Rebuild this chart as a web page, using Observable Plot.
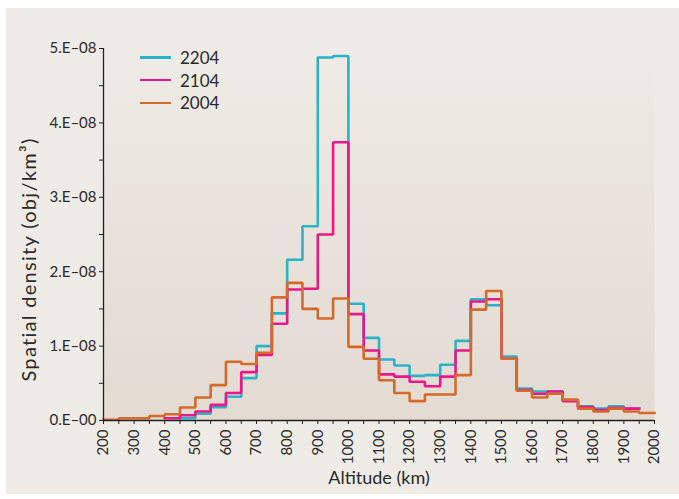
<!DOCTYPE html>
<html>
<head>
<meta charset="utf-8">
<script src="https://cdn.jsdelivr.net/npm/d3@7"></script>
<script src="https://cdn.jsdelivr.net/npm/@observablehq/plot@0.6"></script>
<style>
  html, body { margin: 0; padding: 0; background: #ffffff; }
  #panel { position: absolute; left: 6px; top: 8px; width: 673px; height: 486px; background: #efebe6; font-family: Lato, "Open Sans", sans-serif; }
  #legend { position: absolute; left: 134px; top: 38px; font-family: Lato, sans-serif; font-size: 17px; color: #2a2a2a; }
  .item { position: relative; height: 22.8px; display: flex; align-items: center; }
  .swatch { width: 31px; height: 2.5px; margin-right: 9px; }
</style>
</head>
<body>
<div id="panel"><div id="legend"></div></div>
<script>
// Bin start altitudes (km), bin width 50 km; density values in units of 1e-8 obj/km^3
const binWidth = 50;
const unit = 1e-8;
const series = ["2204", "2104", "2004"];
const colors = ["#2ab3c9", "#ec1789", "#d56a2b"];

const start2204 = 450;
const density2204 = [0.03, 0.09, 0.18, 0.32, 0.57, 1.00, 1.44, 2.16, 2.61, 4.88, 4.90,
  1.57, 1.11, 0.82, 0.74, 0.60, 0.61, 0.75, 1.07, 1.63, 1.55, 0.86, 0.43, 0.39, 0.39,
  0.27, 0.19, 0.16, 0.19, 0.16];

const start2104 = 400;
const density2104 = [0.03, 0.07, 0.12, 0.21, 0.37, 0.65, 0.88, 1.30, 1.76, 1.77, 2.50, 3.74,
  1.43, 0.94, 0.62, 0.59, 0.52, 0.46, 0.59, 0.94, 1.60, 1.63, 0.83, 0.41, 0.36, 0.39,
  0.26, 0.18, 0.14, 0.17, 0.16];

const start2004 = 200;
const density2004 = [0.01, 0.03, 0.03, 0.06, 0.085, 0.175, 0.31, 0.475, 0.79, 0.76, 0.91,
  1.655, 1.85, 1.50, 1.37, 1.64, 0.99, 0.83, 0.54, 0.37, 0.26, 0.35, 0.35, 0.61, 1.49,
  1.74, 0.83, 0.40, 0.31, 0.36, 0.28, 0.16, 0.12, 0.16, 0.12, 0.10];

const xTickLabels = d3.range(200, 2001, 100);
const xMinorTicks = d3.range(250, 2000, 100);
const yTickValues = [0, 1, 2, 3, 4, 5];
const yMinorTicks = [0.5, 1.5, 2.5, 3.5, 4.5];
const xTitle = "Altitude (km)";
const yTitle = "Spatial density (obj/km\u00b3)";

function steps(name, start, values) {
  const pts = values.map((v, i) => ({series: name, alt: start + i * binWidth, d: v * unit}));
  pts.push({series: name, alt: start + values.length * binWidth, d: values[values.length - 1] * unit});
  return pts;
}
const data = [
  ...steps("2204", start2204, density2204),
  ...steps("2104", start2104, density2104),
  ...steps("2004", start2004, density2004)
];

const yFmt = d => d === 0 ? "0.E\u201300" : `${Math.round(d / unit)}.E\u201308`;

const chart = Plot.plot({
  width: 673,
  height: 486,
  marginLeft: 97,
  marginRight: 25,
  marginTop: 40,
  marginBottom: 74,
  style: {background: "transparent", fontFamily: "Lato, sans-serif", color: "#2a2a2a", fontSize: "15px"},
  x: {domain: [200, 2000]},
  y: {domain: [0, 5 * unit]},
  color: {domain: series, range: colors},
  marks: [
    Plot.frame({fill: "url(#plotbg)", stroke: null}),
    Plot.line(data, {x: "alt", y: "d", z: "series", stroke: "series", strokeWidth: 2.6, curve: "step-after", strokeLinejoin: "miter", strokeLinecap: "square"}),
    Plot.ruleY([0], {stroke: "#222", strokeWidth: 1.3}),
    Plot.ruleX([200], {stroke: "#222", strokeWidth: 1.3}),
    Plot.axisX({ticks: xTickLabels, tickFormat: d => String(d), tickRotate: -90, tickSize: 4, tickPadding: 5, fontSize: 15, label: null, stroke: "#222"}),
    Plot.axisX({ticks: xMinorTicks, tickSize: 4, tickFormat: () => "", label: null, stroke: "#222"}),
    Plot.axisY({ticks: yTickValues.map(v => v * unit), tickFormat: yFmt, tickSize: 4, tickPadding: 3, fontSize: 15, label: null, stroke: "#222"}),
    Plot.axisY({ticks: yMinorTicks.map(v => v * unit), tickFormat: () => "", tickSize: 4, label: null, stroke: "#222"}),
    Plot.text([xTitle], {frameAnchor: "bottom", dy: 63, fontSize: 18, fill: "#2a2a2a"}),
    Plot.text([yTitle], {frameAnchor: "left", textAnchor: "middle", dx: -74, dy: 25, rotate: -90, fontSize: 20, fill: "#2a2a2a"})
  ]
});

// gradient background for plot area
const svgns = "http://www.w3.org/2000/svg";
const defs = document.createElementNS(svgns, "defs");
defs.innerHTML = `<linearGradient id="plotbg" x1="0" y1="0" x2="0" y2="1">
  <stop offset="0" stop-color="#efebe6"/>
  <stop offset="0.45" stop-color="#e9e3dc"/>
  <stop offset="1" stop-color="#e3dbd2"/>
</linearGradient>`;
chart.insertBefore(defs, chart.firstChild);
d3.select(chart).selectAll("text").filter(function() { return this.textContent === yTitle; }).style("letter-spacing", "1.3px");

const panel = document.getElementById("panel");
panel.insertBefore(chart, panel.firstChild);

// legend
const legend = d3.select("#legend");
series.forEach((s, i) => {
  const item = legend.append("div").attr("class", "item");
  item.append("div").attr("class", "swatch").style("background", colors[i]);
  item.append("span").text(s);
});
</script>
</body>
</html>
